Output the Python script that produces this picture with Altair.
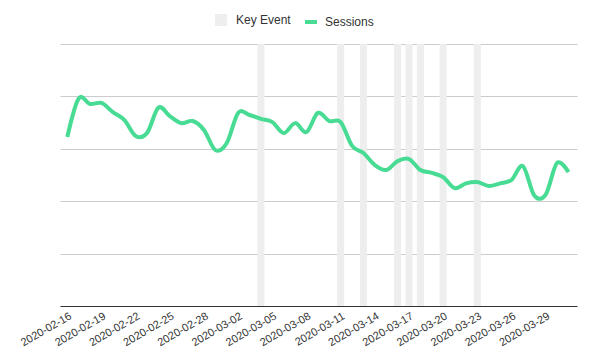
import altair as alt
import pandas as pd

# ---- data -------------------------------------------------------------
start = "2020-02-16"
sessions = [645, 792, 771, 775, 740, 710, 649, 660, 757, 725,
            698, 706, 672, 595, 622, 737, 729, 714, 702, 660,
            698, 664, 737, 706, 702, 611, 584, 538, 519, 553,
            561, 519, 508, 492, 450, 468, 473, 458, 468, 481,
            534, 422, 425, 546, 511]
key_events = ["2020-03-04", "2020-03-11", "2020-03-13", "2020-03-16",
              "2020-03-17", "2020-03-18", "2020-03-20", "2020-03-23"]
tick_dates = ["2020-02-16", "2020-02-19", "2020-02-22", "2020-02-25",
              "2020-02-28", "2020-03-02", "2020-03-05", "2020-03-08",
              "2020-03-11", "2020-03-14", "2020-03-17", "2020-03-20",
              "2020-03-23", "2020-03-26", "2020-03-29"]

GREEN = "#48db93"
GREY_BAR = "#eeeeee"
FONT = "Liberation Sans"


def ms(s):
    return int(pd.Timestamp(s, tz="UTC").value // 10**6)


dates = pd.date_range(start, periods=len(sessions), freq="D")
line_df = pd.DataFrame({
    "date": [d.strftime("%Y-%m-%d") for d in dates],
    "sessions": sessions,
    "series": ["Sessions"] * len(sessions),
})
ev_df = pd.DataFrame({"date": key_events, "series": ["Key Event"] * len(key_events)})

x_scale = alt.Scale(type="utc", domain=[ms("2020-02-15T08:36:00"), ms("2020-03-31T18:00:00")])
x_axis = alt.Axis(
    title=None, values=[ms(t) for t in tick_dates],
    labelExpr="utcFormat(datum.value, '%Y-%m-%d')",
    labelOverlap=False, labelFlush=False,
    labelAngle=-30, labelAlign="right", labelBaseline="top", labelPadding=4,
    labelFontSize=11, labelFont=FONT, labelColor="#333333",
    ticks=False, grid=False, domainColor="#333333", domainWidth=1,
)
y_scale = alt.Scale(domain=[0, 1000], nice=False)
y_axis = alt.Axis(title=None, values=[0, 200, 400, 600, 800, 1000], labels=False,
                  ticks=False, domain=False, grid=True, gridColor="#cccccc", gridWidth=1)

events = alt.Chart(ev_df).mark_rule(strokeWidth=7).encode(
    x=alt.X("date:T", scale=x_scale, axis=x_axis),
    color=alt.Color("series:N", scale=alt.Scale(domain=["Key Event"], range=[GREY_BAR]),
                    legend=alt.Legend(orient="none", legendX=155, legendY=-30, title=None,
                                      symbolType="square", symbolSize=144,
                                      symbolFillColor=GREY_BAR, symbolStrokeWidth=0,
                                      labelFont=FONT, labelFontSize=12, labelColor="#333333",
                                      labelOffset=9, padding=0)),
)

line = alt.Chart(line_df).mark_line(strokeWidth=4, interpolate="cardinal").encode(
    x=alt.X("date:T", scale=x_scale, axis=x_axis),
    y=alt.Y("sessions:Q", scale=y_scale, axis=y_axis),
    stroke=alt.Stroke("series:N", scale=alt.Scale(domain=["Sessions"], range=[GREEN]),
                      legend=alt.Legend(orient="none", legendX=243, legendY=-30, title=None,
                                        symbolType="stroke", symbolSize=144,
                                        symbolStrokeWidth=4,
                                        labelFont=FONT, labelFontSize=12, labelColor="#333333",
                                        labelOffset=6, padding=0)),
)

chart = alt.layer(events, line).properties(
    width=517, height=262,
    autosize=alt.AutoSizeParams(type="none"),
    padding={"left": 52, "top": 36, "right": 7, "bottom": 47},
).configure_view(stroke=None)

chart.save("out.html", embed_options={"renderer": "svg", "actions": False})
